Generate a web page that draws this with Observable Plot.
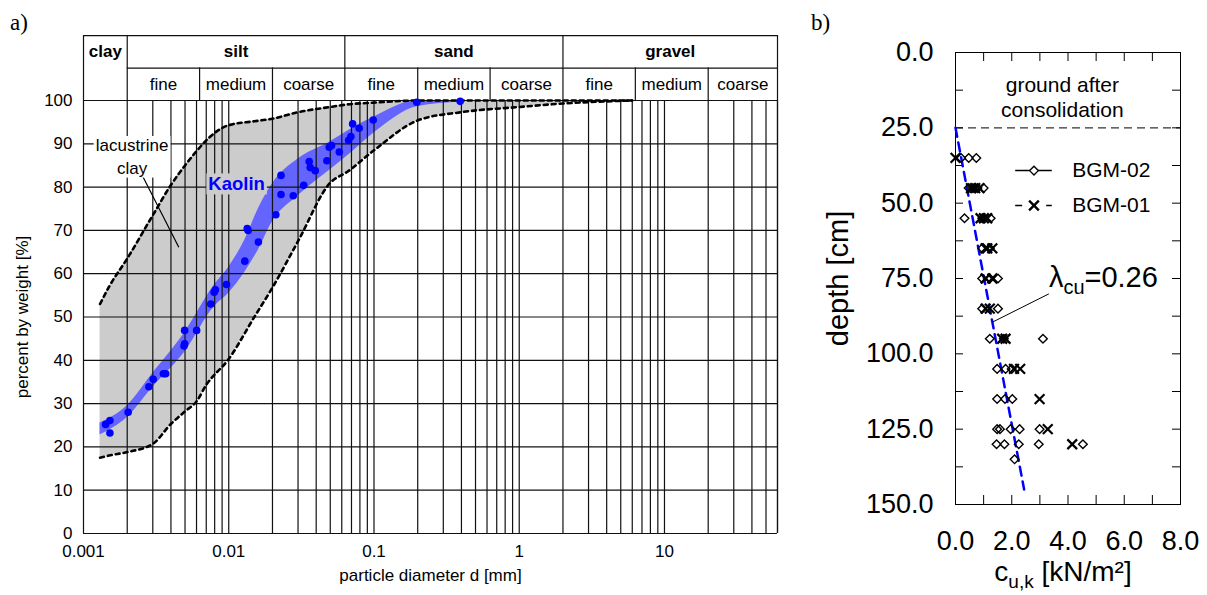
<!DOCTYPE html>
<html><head><meta charset="utf-8">
<script src="https://cdn.jsdelivr.net/npm/d3@7"></script>
<script src="https://cdn.jsdelivr.net/npm/@observablehq/plot@0.6"></script>
<style>
body{margin:0;background:#fff;}
#wrap{position:relative;width:1207px;height:595px;overflow:hidden;background:#fff;}
#wrap svg{position:absolute;top:0;}
.tag{position:absolute;font-family:"Liberation Serif","Times New Roman",serif;font-size:23px;line-height:22px;}
</style></head><body>
<div id="wrap"><div class="tag" style="left:10px;top:12px">a)</div><div class="tag" style="left:811px;top:12px">b)</div></div>
<script>
// ---------- Panel a: grain size distribution ----------
const sizeD          = [0.0013, 0.0015, 0.002, 0.003, 0.004, 0.005, 0.006, 0.007, 0.01, 0.015, 0.02, 0.03, 0.05, 0.066, 0.1, 0.2, 0.4, 1, 2, 6];
const lacustrineUpper = [53, 57, 63.5, 73.5, 80.5, 85, 88.3, 90.8, 94.3, 95.2, 95.8, 97.3, 98.5, 99.1, 99.5, 100, 100, 100, 100, 100];
const lacustrineLower = [17.5, 18, 18.8, 20.7, 25.3, 28.2, 30.5, 34.3, 40.3, 50, 56.8, 67.5, 81, 83.6, 88.5, 95.4, 97.3, 98.5, 99.3, 100];

const kaolinBandD     = [0.0013, 0.002, 0.003, 0.005, 0.008, 0.01, 0.013, 0.016, 0.02, 0.03, 0.05, 0.07, 0.1, 0.2, 0.4, 0.5];
const kaolinBandLower = [22.8, 26.8, 33.8, 42, 52.5, 55.5, 60.5, 65.5, 72, 78, 84, 88, 92.5, 98.6, 99.7, 100];
const kaolinBandUpper = [25.5, 29.5, 37, 46.5, 57.5, 61.5, 68, 75, 80.8, 86.5, 90.5, 93.5, 96.2, 100, 100, 100];

const kaolinD   = [0.00142, 0.00152, 0.00152, 0.00203, 0.00282, 0.00302, 0.00355, 0.00368, 0.00492, 0.00497, 0.00497, 0.00601, 0.00752, 0.00793, 0.0081, 0.00965, 0.0129, 0.016, 0.0136, 0.0134, 0.0211, 0.0229, 0.0278, 0.0328, 0.0229, 0.0358, 0.0364, 0.0394, 0.0474, 0.0492, 0.051, 0.0577, 0.0669, 0.0693, 0.0713, 0.079, 0.0988, 0.197, 0.392];
const kaolinPct = [25.2, 26.1, 23.2, 28.0, 33.9, 35.6, 36.9, 36.9, 43.3, 43.8, 46.9, 46.9, 53.0, 55.7, 56.3, 57.5, 62.9, 67.3, 70.0, 70.4, 73.6, 78.3, 78.0, 80.4, 82.7, 85.9, 84.5, 83.8, 86.1, 89.2, 89.6, 88.1, 90.8, 91.7, 94.6, 93.6, 95.5, 99.6, 99.8];

const mainClasses = ["clay", "silt", "sand", "gravel"];
const mainBounds  = [0.001, 0.002, 0.063, 2, 60];
const subClasses  = ["fine", "medium", "coarse", "fine", "medium", "coarse", "fine", "medium", "coarse"];
const subBounds   = [0.002, 0.0063, 0.02, 0.063, 0.2, 0.63, 2, 6.3, 20, 60];

const pctTicks     = [0, 10, 20, 30, 40, 50, 60, 70, 80, 90, 100];
const sizeTicks    = [0.001, 0.01, 0.1, 1, 10];
const sizeTickText = ["0.001", "0.01", "0.1", "1", "10"];
const gridMultipliers = [1, 2, 3, 4, 5, 6, 7, 8, 9];

// ---------- Panel b: undrained shear strength vs depth ----------
const bgm02Depth = [35, 35, 35, 45, 45, 45, 45, 55, 55, 55, 65, 65, 75, 75, 75, 85, 85, 95, 95, 95, 105, 105, 105, 115, 115, 115, 125, 125, 125, 125, 125, 130, 130, 130, 130, 130, 135];
const bgm02Cu    = [0.20, 0.47, 0.74, 0.47, 0.62, 0.78, 1.0, 0.32, 0.95, 1.25, 0.95, 1.22, 0.95, 1.22, 1.51, 0.95, 1.51, 1.22, 1.72, 3.11, 1.48, 1.78, 2.0, 1.48, 1.76, 2.02, 1.48, 1.58, 1.96, 2.28, 2.99, 1.46, 1.74, 2.25, 2.96, 4.53, 2.1];
const bgm01Depth = [35, 45, 45, 45, 55, 55, 55, 65, 65, 65, 75, 75, 85, 85, 95, 95, 105, 105, 115, 125, 130];
const bgm01Cu    = [0.0, 0.55, 0.7, 0.85, 0.89, 1.01, 1.13, 1.07, 1.13, 1.31, 1.07, 1.31, 1.07, 1.22, 1.66, 1.78, 2.08, 2.3, 2.99, 3.28, 4.15];
const trendCu    = [0, 2.44];
const trendDepth = [25, 145];
const groundDepth = 25;
const cuTicks    = [0, 2, 4, 6, 8];
const cuMinor    = [1, 2, 3, 4, 5, 6, 7];
const depthTicks = [0, 25, 50, 75, 100, 125, 150];
const depthMinor = [12.5, 25, 37.5, 50, 62.5, 75, 87.5, 100, 112.5, 125, 137.5];
const seriesNames = ["BGM-02", "BGM-01"];

const FONT = '"Liberation Sans", Arial, sans-serif';
const ns = "http://www.w3.org/2000/svg";
const wrap = document.getElementById("wrap");

function findText(svg, str) {
  return [...svg.querySelectorAll("text")].find(t => t.textContent === str);
}
function boxText(svg, str, fill) {
  const t = findText(svg, str);
  if (!t) return;
  const b = t.getBBox();
  const r = document.createElementNS(ns, "rect");
  r.setAttribute("x", b.x - 2); r.setAttribute("y", b.y);
  r.setAttribute("width", b.width + 4); r.setAttribute("height", b.height);
  r.setAttribute("fill", fill);
  if (t.getAttribute("transform")) r.setAttribute("transform", t.getAttribute("transform"));
  t.parentNode.insertBefore(r, t);
}
function richText(svg, str, parts) {
  const t = findText(svg, str);
  if (!t) return;
  while (t.firstChild) t.removeChild(t.firstChild);
  parts.forEach(([s, size, dy]) => {
    const ts = document.createElementNS(ns, "tspan");
    ts.textContent = s;
    if (size) ts.setAttribute("font-size", size);
    if (dy) ts.setAttribute("dy", dy);
    t.appendChild(ts);
  });
}

// ---- build panel a ----
const lac  = sizeD.map((d, i) => ({d, lo: lacustrineLower[i], hi: lacustrineUpper[i]}));
const band = kaolinBandD.map((d, i) => ({d, lo: kaolinBandLower[i], hi: kaolinBandUpper[i]}));
const dots = kaolinD.map((d, i) => ({d, p: kaolinPct[i]}));
const gridD = sizeTicks.flatMap(dec => gridMultipliers.map(m => +(m * dec).toPrecision(3))).filter(v => v <= 60).concat([60]);
const H1 = 107.5, H2 = 115; // header rows, in percent-scale units above 100
const mainHead = mainClasses.map((c, i) => ({c, x: Math.sqrt(mainBounds[i] * mainBounds[i + 1])}));
const subHead  = subClasses.map((c, i) => ({c, x: Math.sqrt(subBounds[i] * subBounds[i + 1])}));
const innerSub = subBounds.filter(b => !mainBounds.includes(b));

const chartA = Plot.plot({
  width: 790, height: 595, marginLeft: 83, marginRight: 13, marginTop: 100, marginBottom: 62,
  style: {fontFamily: FONT, fontSize: "17px", background: "transparent", color: "black"},
  x: {type: "log", domain: [0.001, 60], ticks: sizeTicks, tickFormat: d => sizeTickText[sizeTicks.indexOf(d)], tickSize: 0, tickPadding: 11, label: null},
  y: {domain: [0, 100], ticks: pctTicks, tickSize: 0, tickPadding: 11, label: null},
  marks: [
    Plot.areaY(lac, {x: "d", y1: "lo", y2: "hi", fill: "#cccccc", curve: "monotone-x"}),
    Plot.areaY(band, {x: "d", y1: "lo", y2: "hi", fill: "#6464ff", curve: "monotone-x"}),
    Plot.ruleX(gridD, {y1: 0, y2: 100, stroke: "#111", strokeWidth: 1.2}),
    Plot.ruleY(pctTicks, {x1: 0.001, x2: 60, stroke: "#111", strokeWidth: 1.2}),
    Plot.ruleX(mainBounds, {y1: 100, y2: H2, stroke: "#111", strokeWidth: 1.2}),
    Plot.ruleX(innerSub, {y1: 100, y2: H1, stroke: "#111", strokeWidth: 1.2}),
    Plot.ruleY([H1], {x1: 0.002, x2: 60, stroke: "#111", strokeWidth: 1.2}),
    Plot.ruleY([H2], {x1: 0.001, x2: 60, stroke: "#111", strokeWidth: 1.2}),
    Plot.line(lac, {x: "d", y: "hi", stroke: "black", strokeWidth: 2.6, strokeDasharray: "4,4", curve: "monotone-x"}),
    Plot.line(lac, {x: "d", y: "lo", stroke: "black", strokeWidth: 2.6, strokeDasharray: "4,4", curve: "monotone-x"}),
    Plot.link([0], {x1: 0.00254, y1: 82.7, x2: 0.00453, y2: 66.1, stroke: "black", strokeWidth: 1.2}),
    Plot.text(["lacustrine\nclay"], {x: 0.00216, y: 87.4, text: d => d, lineHeight: 1.33, fontSize: 17}),
    Plot.dot(dots, {x: "d", y: "p", r: 3.8, fill: "#0000ff"}),
    Plot.text(["Kaolin"], {x: 0.01133, y: 80.6, text: d => d, fontWeight: "bold", fill: "#0000ff", fontSize: 18.5}),
    Plot.text(mainHead, {x: "x", y: (H1 + H2) / 2, text: "c", fontWeight: "bold", fontSize: 17}),
    Plot.text(subHead, {x: "x", y: (100 + H1) / 2, text: "c", fontSize: 17}),
    Plot.text(["particle diameter d [mm]"], {frameAnchor: "bottom", dy: 47, text: d => d, fontSize: 17}),
    Plot.text(["percent by weight [%]"], {frameAnchor: "left", textAnchor: "middle", dx: -61, rotate: -90, text: d => d, fontSize: 17})
  ]
});
chartA.style.left = "0px";
wrap.appendChild(chartA);
boxText(chartA, "lacustrineclay", "white");
boxText(chartA, "Kaolin", "#cccccc");

// ---- build panel b ----
const FW = 407 - 155 - 27, FH = 595 - 52 - 91;
const d02 = bgm02Depth.map((d, i) => ({depth: d, cu: bgm02Cu[i]}));
const d01 = bgm01Depth.map((d, i) => ({depth: d, cu: bgm01Cu[i]}));
const trend = trendCu.map((c, i) => ({cu: c, depth: trendDepth[i]}));
const legendY = [39.2, 50.8];

const chartB = Plot.plot({
  width: 407, height: 595, marginLeft: 155, marginRight: 27, marginTop: 52, marginBottom: 91,
  style: {fontFamily: FONT, fontSize: "27px", background: "transparent", color: "black"},
  x: {domain: [0, 8], ticks: cuTicks, tickFormat: d3.format(".1f"), tickSize: 0, tickPadding: 26, label: null},
  y: {domain: [0, 150], reverse: true, ticks: depthTicks, tickFormat: d3.format(".1f"), tickSize: 0, tickPadding: 22, label: null},
  marks: [
    Plot.ruleY([groundDepth], {x1: 0, x2: 8, stroke: "#333", strokeWidth: 1.2, strokeDasharray: "8,5"}),
    Plot.frame({stroke: "black", strokeWidth: 1}),
    Plot.ruleX(cuMinor, {insetTop: FH - 9, stroke: "black"}),
    Plot.ruleX(cuMinor, {insetBottom: FH - 9, stroke: "black"}),
    Plot.ruleY(depthMinor, {insetRight: FW - 8, stroke: "black"}),
    Plot.ruleY(depthMinor, {insetLeft: FW - 8, stroke: "black"}),
    Plot.text(["ground after\nconsolidation"], {x: 3.8, y: 14.75, text: d => d, fontSize: 21, lineHeight: 1.19}),
    Plot.line(trend, {x: "cu", y: "depth", stroke: "#0000ff", strokeWidth: 2.5, strokeDasharray: "9,6"}),
    Plot.dot(d02, {x: "cu", y: "depth", symbol: "diamond2", r: 3.9, stroke: "black", strokeWidth: 1.4, fill: "none"}),
    Plot.dot(d01, {x: "cu", y: "depth", symbol: "times", r: 4.5, stroke: "black", strokeWidth: 2.2}),
    // legend
    Plot.ruleY([legendY[0]], {x1: 2.14, x2: 3.44, stroke: "black", strokeWidth: 1.5}),
    Plot.ruleY([legendY[1]], {x1: 2.14, x2: 3.44, stroke: "black", strokeWidth: 1.5, strokeDasharray: "7,24,6"}),
    Plot.dot([legendY[0]], {x: 2.79, y: d => d, symbol: "diamond2", r: 3.9, stroke: "black", strokeWidth: 1.4, fill: "white"}),
    Plot.dot([legendY[1]], {x: 2.79, y: d => d, symbol: "times", r: 4.5, stroke: "black", strokeWidth: 2.4}),
    Plot.text(seriesNames, {x: 4.15, y: (d, i) => legendY[i], text: d => d, textAnchor: "start", fontSize: 21}),
    // lambda annotation
    Plot.link([0], {x1: 3.32, y1: 80.1, x2: 1.31, y2: 89.5, stroke: "black", strokeWidth: 1}),
    Plot.text(["λcu=0.26"], {x: 3.32, y: 74.7, text: d => d, textAnchor: "start", fontSize: 29}),
    Plot.text(["cu,k [kN/m²]"], {frameAnchor: "bottom", dy: 76, dx: -5, text: d => d, fontSize: 28}),
    Plot.text(["depth [cm]"], {frameAnchor: "left", textAnchor: "middle", dx: -117, rotate: -90, text: d => d, fontSize: 29})
  ]
});
chartB.style.left = "800px";
wrap.appendChild(chartB);
richText(chartB, "λcu=0.26", [["λ"], ["cu", 20, 7], ["=0.26", null, -7]]);
richText(chartB, "cu,k [kN/m²]", [["c"], ["u,k", 19, 7], [" [kN/m²]", null, -7]]);
</script>
</body></html>
